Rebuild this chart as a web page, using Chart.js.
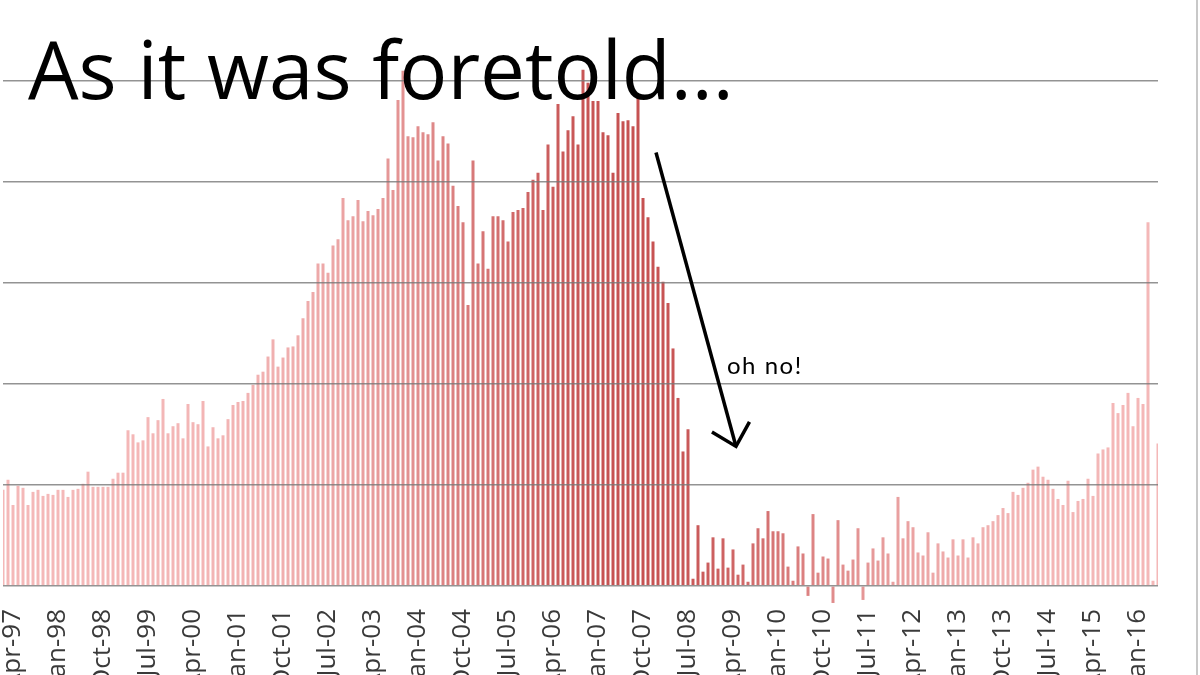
<!DOCTYPE html>
<html>
<head>
<meta charset="utf-8">
<script src="https://cdn.jsdelivr.net/npm/chart.js@4.4.0/dist/chart.umd.min.js"></script>
<style>
    html, body { margin: 0; padding: 0; background: #fff; overflow: hidden; }
    #wrap { position: relative; width: 1200px; height: 675px; }
    #borda { position: absolute; left: 1196px; top: 0; width: 2px; height: 675px; background: #c8c8c8; }
</style>
</head>
<body>
<div id="wrap">
    <canvas id="grafico" width="1200" height="675"></canvas>
    <div id="borda"></div>
</div>
<script>
// first bar is Feb-97, one value per month up to May-16
const anoInicial = 1997;
const mesInicial = 1; // 0 = Jan
const nomesMeses = ['Jan', 'Feb', 'Mar', 'Apr', 'May', 'Jun', 'Jul', 'Aug', 'Sep', 'Oct', 'Nov', 'Dec'];

const valores = [
    0.95, 1.05, 0.80, 0.99, 0.97, 0.80, 0.93, 0.95, 0.89, 0.91, 0.90,          // 1997 (Feb-Dec)
    0.95, 0.95, 0.88, 0.95, 0.96, 1.01, 1.13, 0.98, 0.98, 0.98, 0.98, 1.06,    // 1998
    1.12, 1.12, 1.54, 1.50, 1.42, 1.44, 1.67, 1.51, 1.64, 1.85, 1.51, 1.58,    // 1999
    1.61, 1.46, 1.80, 1.62, 1.60, 1.83, 1.38, 1.57, 1.46, 1.49, 1.65, 1.79,    // 2000
    1.82, 1.83, 1.91, 1.99, 2.09, 2.12, 2.27, 2.44, 2.17, 2.26, 2.36, 2.37,    // 2001
    2.48, 2.65, 2.82, 2.91, 3.19, 3.19, 3.10, 3.37, 3.43, 3.84, 3.62, 3.66,    // 2002
    3.82, 3.61, 3.71, 3.67, 3.73, 3.84, 4.23, 3.92, 4.81, 5.10, 4.45, 4.44,    // 2003
    4.55, 4.49, 4.47, 4.59, 4.21, 4.45, 4.38, 3.96, 3.76, 3.60, 2.78, 4.21,    // 2004
    3.19, 3.51, 3.14, 3.66, 3.66, 3.62, 3.41, 3.70, 3.72, 3.74, 3.90, 4.02,    // 2005
    4.09, 3.72, 4.37, 3.95, 4.77, 4.30, 4.51, 4.65, 4.37, 5.11, 4.98, 4.80,    // 2006
    4.80, 4.49, 4.46, 4.09, 4.68, 4.60, 4.61, 4.55, 4.85, 3.84, 3.65, 3.41,    // 2007
    3.16, 3.01, 2.80, 2.35, 1.86, 1.33, 1.55, 0.07, 0.60, 0.14, 0.23, 0.48,    // 2008
    0.17, 0.47, 0.18, 0.36, 0.11, 0.21, 0.04, 0.42, 0.57, 0.47, 0.74, 0.54,    // 2009
    0.54, 0.52, 0.19, 0.05, 0.39, 0.32, -0.10, 0.71, 0.13, 0.29, 0.27, -0.17,  // 2010
    0.65, 0.21, 0.15, 0.26, 0.57, -0.14, 0.23, 0.37, 0.25, 0.48, 0.32, 0.04,   // 2011
    0.88, 0.47, 0.64, 0.58, 0.33, 0.30, 0.53, 0.13, 0.42, 0.34, 0.28, 0.46,    // 2012
    0.30, 0.46, 0.28, 0.48, 0.42, 0.58, 0.60, 0.64, 0.70, 0.77, 0.72, 0.93,    // 2013
    0.90, 0.97, 1.02, 1.15, 1.18, 1.08, 1.05, 0.96, 0.86, 0.80, 1.04, 0.73,    // 2014
    0.84, 0.86, 1.06, 0.89, 1.31, 1.35, 1.37, 1.81, 1.71, 1.79, 1.91, 1.58,    // 2015
    1.86, 1.80, 3.60, 0.05, 1.41                                               // 2016 (Jan-May)
];

const rotulosVisiveis = ['Apr-97', 'Jan-98', 'Oct-98', 'Jul-99', 'Apr-00', 'Jan-01', 'Oct-01', 'Jul-02', 'Apr-03',
    'Jan-04', 'Oct-04', 'Jul-05', 'Apr-06', 'Jan-07', 'Oct-07', 'Jul-08', 'Apr-09', 'Jan-10', 'Oct-10',
    'Jul-11', 'Apr-12', 'Jan-13', 'Oct-13', 'Jul-14', 'Apr-15', 'Jan-16'];
const linhasGrade = [0, 1, 2, 3, 4, 5];

const titulo = 'As it was foretold...';
const textoSeta = 'oh no!';
// arrow from late 2007 down to spring 2009 (category index, value)
const setaInicio = [130.6, 4.29];
const setaFim = [146.6, 1.38];

const rotulos = valores.map((_, i) => {
    const m = mesInicial + i;
    const ano = anoInicial + Math.floor(m / 12);
    return nomesMeses[m % 12] + '-' + String(ano).slice(2);
});

// bars darken towards the 2006-2008 stretch
function corBarra(i) {
    const t = Math.exp(-Math.pow((i - 125) / 45, 2));
    const r = Math.round(244 + (198 - 244) * t);
    const g = Math.round(184 + (82 - 184) * t);
    const b = Math.round(184 + (82 - 184) * t);
    return `rgb(${r}, ${g}, ${b})`;
}

const anotacoes = {
    id: 'anotacoes',
    afterDraw(chart) {
        const ctx = chart.ctx;
        const x = chart.scales.x;
        const y = chart.scales.y;
        ctx.save();

        ctx.fillStyle = '#000';
        ctx.textBaseline = 'alphabetic';
        ctx.textAlign = 'left';
        ctx.font = '80px "Open Sans"';
        ctx.fillText(titulo, 28, 99);

        const x0 = x.getPixelForValue(setaInicio[0]);
        const y0 = y.getPixelForValue(setaInicio[1]);
        const x1 = x.getPixelForValue(setaFim[0]);
        const y1 = y.getPixelForValue(setaFim[1]);
        ctx.strokeStyle = '#000';
        ctx.lineWidth = 3.5;
        ctx.beginPath();
        ctx.moveTo(x0, y0);
        ctx.lineTo(x1, y1);
        ctx.stroke();

        const ang = Math.atan2(y1 - y0, x1 - x0) + Math.PI;
        const abertura = 44 * Math.PI / 180;
        const len = 28;
        ctx.beginPath();
        ctx.moveTo(x1 + len * Math.cos(ang - abertura), y1 + len * Math.sin(ang - abertura));
        ctx.lineTo(x1, y1);
        ctx.lineTo(x1 + len * Math.cos(ang + abertura), y1 + len * Math.sin(ang + abertura));
        ctx.stroke();

        ctx.font = '24px Lato';
        ctx.letterSpacing = '1.5px';
        ctx.fillText(textoSeta, x1 - 9, y.getPixelForValue(2.1));
        ctx.restore();
    }
};

new Chart(document.getElementById('grafico').getContext('2d'), {
    type: 'bar',
    data: {
        labels: rotulos,
        datasets: [{
            data: valores,
            backgroundColor: valores.map((_, i) => corBarra(i)),
            borderWidth: 0,
            barPercentage: 0.6,
            categoryPercentage: 1
        }]
    },
    options: {
        responsive: false,
        animation: false,
        layout: { padding: { left: 0, right: 42, top: 0, bottom: 0 } },
        plugins: {
            legend: { display: false },
            tooltip: { enabled: false }
        },
        scales: {
            x: {
                offset: false,
                grid: { display: false, drawTicks: false },
                border: { display: false },
                ticks: {
                    autoSkip: false,
                    maxRotation: 90,
                    minRotation: 90,
                    padding: 3,
                    color: '#3a3a3a',
                    font: { family: 'Open Sans', size: 26 },
                    callback: (v, i) => rotulosVisiveis.includes(rotulos[i]) ? rotulos[i] : ''
                },
                afterFit: (s) => { s.height = 69; }
            },
            y: {
                min: -0.2,
                max: 5.8,
                grid: {
                    z: 1,
                    lineWidth: 1.6,
                    drawTicks: false,
                    color: 'rgba(120,120,120,0.8)'
                },
                border: { display: false },
                ticks: { display: false },
                afterBuildTicks: (s) => { s.ticks = linhasGrade.map(v => ({ value: v })); }
            }
        }
    },
    plugins: [anotacoes]
});
</script>
</body>
</html>
